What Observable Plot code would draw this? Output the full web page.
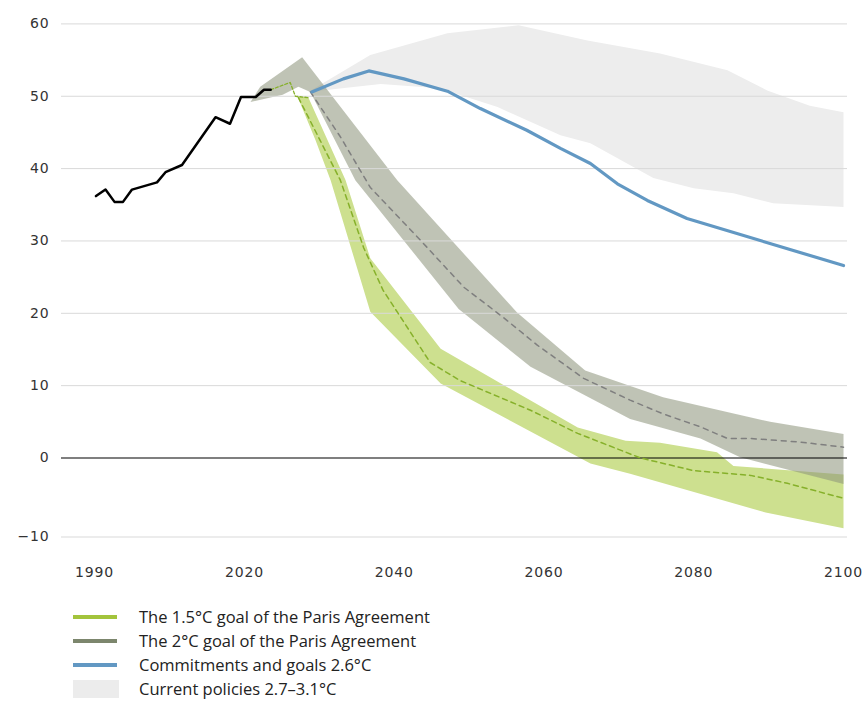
<!DOCTYPE html>
<html>
<head>
<meta charset="utf-8">
<script src="https://cdn.jsdelivr.net/npm/d3@7"></script>
<script src="https://cdn.jsdelivr.net/npm/@observablehq/plot@0.6"></script>
<style>
  body { margin: 0; background: #fff; }
  #chart { position: relative; width: 867px; }
  #legend { position: relative; width: 867px; height: 112px; font-family: "Open Sans", sans-serif; font-size: 16.5px; color: #222; }
  .row { position: absolute; left: 0; height: 24px; width: 700px; }
  .sw { position: absolute; left: 73px; top: 10px; width: 44px; height: 4px; }
  .box { position: absolute; left: 73px; top: 3px; width: 46px; height: 18px; background: #ececec; }
  .lab { position: absolute; left: 139px; top: 0; line-height: 24px; white-space: nowrap; }
</style>
</head>
<body>
<div id="chart"></div>
<div id="legend"></div>
<script>
// ---- Data (GtCO2e) ----
const xTicks = [1990, 2020, 2040, 2060, 2080, 2100];
const yTicks = [-10, 0, 10, 20, 30, 40, 50, 60];

const historic = [[1990.3,36.2],[1992.2,37.1],[1994.0,35.4],[1995.7,35.4],[1997.5,37.1],[2002.5,38.1],[2004.2,39.5],[2007.5,40.5],[2014.2,47.1],[2017.1,46.2],[2019.3,49.9],[2021.5,49.9],[2022.6,50.9],[2023.5,50.9]];

const transition15 = [[2023.5,50.9],[2026.1,51.9],[2026.8,50.0],[2028.6,49.8]];

const median15 = [[2027.2,49.8],[2030.1,43.9],[2032.8,38.4],[2035.9,29.1],[2038.5,23.2],[2044.8,13.2],[2048.8,10.7],[2058.2,6.6],[2064.5,3.4],[2072.9,0.0],[2080.0,-1.6],[2087.6,-2.2],[2092.5,-3.2],[2100,-5.1]];
const upper15 = [[2028.5,49.9],[2033.5,38.4],[2036.8,27.6],[2046.2,15.1],[2064.5,4.2],[2070.9,2.4],[2075.5,2.1],[2083.1,0.8],[2085.3,-1.0],[2100,-2.1]];
const lower15 = [[2027.1,49.9],[2029.5,43.9],[2031.5,38.4],[2036.8,20.2],[2046.2,10.3],[2066.2,-0.7],[2071.5,-2.0],[2089.6,-6.9],[2100,-8.9]];

const median2 = [[2028.8,50.6],[2032.8,44.4],[2036.8,37.4],[2043.5,30.1],[2049.3,23.6],[2054.6,19.4],[2059.1,15.6],[2065.3,11.0],[2071.5,8.0],[2075.9,6.1],[2080.9,4.3],[2084.5,2.7],[2087.6,2.7],[2094.2,2.2],[2100,1.5]];
const upper2 = [[2022.1,51.3],[2027.7,55.4],[2040.4,38.4],[2056.4,20.1],[2065.5,12.1],[2075.9,8.4],[2090.2,5.0],[2100,3.3]];
const lower2 = [[2020.8,49.2],[2025.1,50.2],[2027.2,51.3],[2028.8,50.6],[2034.8,38.4],[2048.6,20.6],[2058.2,12.6],[2071.5,5.4],[2080.9,2.7],[2086.2,0.1],[2100,-3.3]];

const commitments = [[2029.0,50.6],[2033.2,52.4],[2036.6,53.5],[2041.3,52.4],[2047.1,50.7],[2051.5,48.3],[2057.7,45.3],[2062.2,42.8],[2066.2,40.7],[2069.8,37.9],[2073.8,35.6],[2079.1,33.1],[2100,26.6]];

const upperCP = [[2028.5,50.6],[2036.8,55.7],[2047.1,58.7],[2056.6,59.8],[2065.8,57.7],[2075.5,55.9],[2084.5,53.6],[2089.8,50.8],[2095.5,48.7],[2100,47.8]];
const lowerCP = [[2028.5,50.6],[2038.2,51.7],[2046.0,51.1],[2053.8,48.5],[2062.2,44.6],[2066.2,43.5],[2074.6,38.7],[2080.0,37.3],[2085.3,36.6],[2090.6,35.2],[2100,34.7]];

const legendItems = [
  {label: "The 1.5°C goal of the Paris Agreement", color: "#a3c43c", kind: "line"},
  {label: "The 2°C goal of the Paris Agreement", color: "#7c866d", kind: "line"},
  {label: "Commitments and goals 2.6°C", color: "#6298c3", kind: "line"},
  {label: "Current policies 2.7–3.1°C", color: "#ececec", kind: "box"}
];

// ---- helpers ----
const pts = a => a.map(([year, v]) => ({year, v}));
const poly = (up, lo) => pts([...up, ...lo.slice().reverse()]);

const chart = Plot.plot({
  width: 867,
  height: 590,
  marginLeft: 61,
  marginRight: 20,
  marginTop: 10,
  marginBottom: 50,
  style: "font-family: 'DejaVu Sans', sans-serif; font-size: 14px; letter-spacing: 0.8px; color: #333; background: #fff; overflow: visible;",
  x: {type: "linear", domain: [1990, 2020, 2100], range: [94, 244, 843], ticks: xTicks, tickSize: 0, tickPadding: 27, tickFormat: d => String(d), label: null},
  y: {type: "linear", domain: [-10, 0, 60], range: [536.5, 457.5, 23.4], ticks: yTicks, tickSize: 0, tickPadding: 12, tickFormat: d => d < 0 ? "\u2212" + Math.abs(d) : String(d), label: null},
  marks: [
    Plot.line(poly(upperCP, lowerCP), {x: "year", y: "v", fill: "#ededed", stroke: "none"}),
    Plot.line(poly(upper15, lower15), {x: "year", y: "v", fill: "#cde08f", stroke: "none"}),
    Plot.line(poly(upper2, lower2), {x: "year", y: "v", fill: "rgb(141,148,123)", fillOpacity: 0.56, stroke: "none"}),
    Plot.ruleY(yTicks.filter(d => d !== 0), {stroke: "#d9d9d9", strokeWidth: 1}),
    Plot.ruleY([0], {stroke: "#000", strokeWidth: 1.2}),
    Plot.line(pts(median2), {x: "year", y: "v", stroke: "#7f7f7f", strokeWidth: 1.5, strokeDasharray: "5,5"}),
    Plot.line(pts(median15), {x: "year", y: "v", stroke: "#86b02a", strokeWidth: 1.5, strokeDasharray: "5,4"}),
    Plot.line(pts(transition15), {x: "year", y: "v", stroke: "#86b02a", strokeWidth: 1.3, strokeDasharray: "3,2"}),
    Plot.line(pts(commitments), {x: "year", y: "v", stroke: "#6298c3", strokeWidth: 3.2}),
    Plot.line(pts(historic), {x: "year", y: "v", stroke: "#000", strokeWidth: 2.5})
  ]
});
document.getElementById("chart").appendChild(chart);

// ---- legend ----
const legend = d3.select("#legend");
legendItems.forEach((d, i) => {
  const row = legend.append("div").attr("class", "row").style("top", (15 + i * 24) + "px");
  if (d.kind === "line") row.append("div").attr("class", "sw").style("background", d.color);
  else row.append("div").attr("class", "box").style("background", d.color);
  row.append("div").attr("class", "lab").text(d.label);
});
</script>
</body>
</html>
